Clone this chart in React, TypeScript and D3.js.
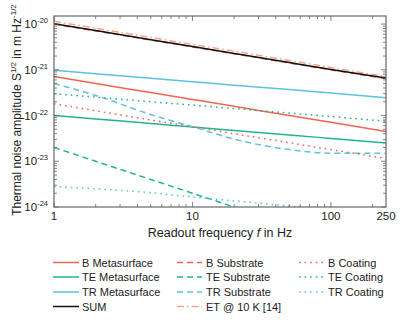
import React from 'react';
import * as d3 from 'd3';

// readout frequencies (Hz) where the curves were read
const freqs = [1, 2, 5, 10, 20, 50, 100, 250];

// noise amplitudes in m/sqrt(Hz)
const bMeta = [7.1e-22, 5.0e-22, 3.18e-22, 2.25e-22, 1.59e-22, 1.0e-22, 7.1e-23, 4.5e-23];
const teMeta = [1.0e-22, 8.4e-23, 6.7e-23, 5.6e-23, 4.7e-23, 3.76e-23, 3.16e-23, 2.5e-23];
const trMeta = [9.8e-22, 8.2e-22, 6.55e-22, 5.5e-22, 4.6e-22, 3.7e-22, 3.1e-22, 2.45e-22];
const sum = [1.02e-20, 7.2e-21, 4.56e-21, 3.23e-21, 2.28e-21, 1.44e-21, 1.02e-21, 6.6e-22];
const bSub = [1.0e-20, 7.05e-21, 4.47e-21, 3.16e-21, 2.24e-21, 1.41e-21, 1.0e-21, 6.4e-22];
const teSub = [2.0e-23, 1.0e-23, 4.0e-24, 2.0e-24, 1.0e-24, 4.0e-25, 2.0e-25, 8.0e-26];
const trSub = [5.0e-22, 2.75e-22, 1.05e-22, 5.7e-23, 3.05e-23, 1.8e-23, 1.5e-23, 1.5e-23];
const et10k = [1.15e-20, 8.1e-21, 5.1e-21, 3.6e-21, 2.55e-21, 1.6e-21, 1.12e-21, 7.1e-22];
const bCoat = [1.8e-22, 1.27e-22, 8.0e-23, 5.7e-23, 4.0e-23, 2.55e-23, 1.8e-23, 1.15e-23];
const teCoat = [3.0e-22, 2.52e-22, 2.0e-22, 1.69e-22, 1.42e-22, 1.13e-22, 9.5e-23, 7.5e-23];
const trCoat = [2.8e-24, 2.5e-24, 2.05e-24, 1.66e-24, 1.36e-24, 1.05e-24, 8.6e-25, 6.0e-25];

const xTickLabels = [1, 10, 100, 250];
const yDecades = [-24, -23, -22, -21, -20];

const RED = '#ee6553';
const GREEN = '#22b48f';
const BLUE = '#5ec2df';
const SALMON = '#f7a688';

const DASH = '6,4';
const DOT = '1.6,4';
const DASHDOT = '7,3,1.6,3';

// legend order: column by column
const series = [
  { name: 'B Metasurface', values: bMeta, color: RED, dash: null, col: 0, row: 0 },
  { name: 'TE Metasurface', values: teMeta, color: GREEN, dash: null, col: 0, row: 1 },
  { name: 'TR Metasurface', values: trMeta, color: BLUE, dash: null, col: 0, row: 2 },
  { name: 'B Substrate', values: bSub, color: RED, dash: DASH, col: 1, row: 0 },
  { name: 'TE Substrate', values: teSub, color: GREEN, dash: DASH, col: 1, row: 1 },
  { name: 'TR Substrate', values: trSub, color: BLUE, dash: DASH, col: 1, row: 2 },
  { name: 'B Coating', values: bCoat, color: RED, dash: DOT, col: 2, row: 0 },
  { name: 'TE Coating', values: teCoat, color: GREEN, dash: DOT, col: 2, row: 1 },
  { name: 'TR Coating', values: trCoat, color: BLUE, dash: DOT, col: 2, row: 2 },
  { name: 'ET @ 10 K [14]', values: et10k, color: SALMON, dash: DASHDOT, col: 1, row: 3 },
  { name: 'SUM', values: sum, color: '#111', dash: null, col: 0, row: 3 },
];

const W = 415;
const H = 320;
const m = { left: 54, right: 29, top: 16, bottom: 113 };
const FONT = '"Liberation Sans", Arial, sans-serif';

export default function App() {
  const x = d3.scaleLog().domain([1, 250]).range([m.left, W - m.right]);
  const y = d3.scaleLog().domain([1e-24, 1.5e-20]).range([H - m.bottom, m.top]);

  const line = d3
    .line<number>()
    .x((_, i) => x(freqs[i]))
    .y((d) => y(d))
    .curve(d3.curveMonotoneX);

  const x0 = x.range()[0];
  const x1 = x.range()[1];
  const y0 = y.range()[0];
  const y1 = y.range()[1];

  // ticks
  const xMinor: number[] = [];
  for (let e = 0; e <= 2; e++) {
    for (let k = 1; k <= 9; k++) {
      const v = k * Math.pow(10, e);
      if (v <= 250) xMinor.push(v);
    }
  }
  const yMinor: number[] = [];
  for (let e = -24; e <= -20; e++) {
    for (let k = 1; k <= 9; k++) {
      const v = k * Math.pow(10, e);
      if (v <= 1.5e-20) yMinor.push(v);
    }
  }
  const axisColor = '#666';

  const legendCols = [
    { x0: 53, x1: 79, tx: 82 },
    { x0: 177, x1: 202, tx: 206 },
    { x0: 299, x1: 324, tx: 328 },
  ];
  const legendRows = [262.5, 277, 292, 306.5];

  return (
    <svg width={W} height={H} style={{ position: 'absolute', left: 0, top: 0 }} fontFamily={FONT}>
      <defs>
        <clipPath id="plot">
          <rect x={x0} y={y1} width={x1 - x0} height={y0 - y1} />
        </clipPath>
      </defs>
      <rect width={W} height={H} fill="#fff" />

      <g clipPath="url(#plot)">
        {series.map((s) => (
          <path
            key={s.name}
            d={line(s.values) || ''}
            fill="none"
            stroke={s.color}
            strokeWidth={1.5}
            strokeDasharray={s.dash || undefined}
          />
        ))}
      </g>

      {/* frame */}
      <rect x={x0} y={y1} width={x1 - x0} height={y0 - y1} fill="none" stroke={axisColor} strokeWidth={1.2} />

      {/* x ticks */}
      {xMinor.map((v) => {
        const major = v === 1 || v === 10 || v === 100;
        const len = major ? 5 : 3;
        return (
          <g key={'x' + v} stroke={axisColor} strokeWidth={0.8}>
            <line x1={x(v)} x2={x(v)} y1={y0} y2={y0 - len} />
            <line x1={x(v)} x2={x(v)} y1={y1} y2={y1 + len} />
          </g>
        );
      })}
      {/* y ticks */}
      {yMinor.map((v, i) => {
        const major = i % 9 === 0;
        const len = major ? 5 : 3;
        return (
          <g key={'y' + i} stroke={axisColor} strokeWidth={0.8}>
            <line x1={x0} x2={x0 + len} y1={y(v)} y2={y(v)} />
            <line x1={x1} x2={x1 - len} y1={y(v)} y2={y(v)} />
          </g>
        );
      })}

      {/* tick labels */}
      {xTickLabels.map((v) => (
        <text key={'xl' + v} x={x(v)} y={y0 + 13} textAnchor="middle" fontSize={11.5} fill="#222">
          {v}
        </text>
      ))}
      {yDecades.map((e) => (
        <text key={'yl' + e} x={x0 - 6} y={y(Math.pow(10, e)) + 4} textAnchor="end" fontSize={11.5} fill="#222">
          10
          <tspan fontSize={7.5} dy={-5}>
            {String(e)}
          </tspan>
        </text>
      ))}

      {/* axis titles */}
      <text x={(x0 + x1) / 2} y={y0 + 30} textAnchor="middle" fontSize={12.5} fill="#222">
        Readout frequency <tspan fontStyle="italic">f</tspan> in Hz
      </text>
      <text
        transform={`translate(21,110) rotate(-90)`}
        textAnchor="middle"
        fontSize={12}
        fill="#222"
      >
        Thermal noise amplitude S
        <tspan fontSize={8} dy={-5}>1/2</tspan>
        <tspan dy={5}> in m Hz</tspan>
        <tspan fontSize={8} dy={-5}>-1/2</tspan>
      </text>

      {/* legend */}
      {series.map((s) => {
        const c = legendCols[s.col];
        const ly = legendRows[s.row];
        return (
          <g key={'lg' + s.name}>
            <line
              x1={c.x0}
              x2={c.x1}
              y1={ly}
              y2={ly}
              stroke={s.color}
              strokeWidth={1.5}
              strokeDasharray={s.dash || undefined}
            />
            <text x={c.tx} y={ly + 4} fontSize={11} fill="#222">
              {s.name}
            </text>
          </g>
        );
      })}
    </svg>
  );
}
